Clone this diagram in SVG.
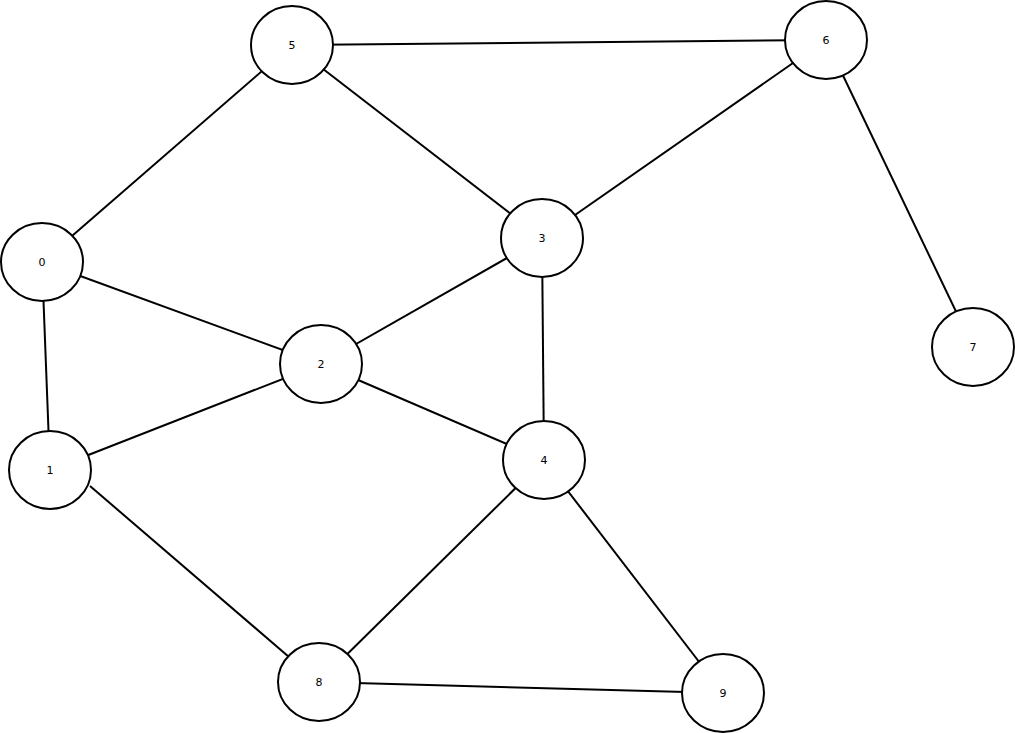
<svg xmlns="http://www.w3.org/2000/svg" width="1015" height="733" viewBox="0 0 1015 733">
<style>
.n ellipse{fill:#fff;stroke:#000;stroke-width:2}
.n text{font-family:"DejaVu Sans",sans-serif;font-size:11px;text-anchor:middle;dominant-baseline:central;fill:#000}
#edges line{stroke:#000;stroke-width:2}
</style>
<rect width="1015" height="733" fill="#fff"/>
<g id="edges">
<line x1="292" y1="45" x2="826" y2="40"/>
<line x1="292" y1="45" x2="42" y2="262"/>
<line x1="292" y1="45" x2="542" y2="238"/>
<line x1="826" y1="40" x2="542" y2="238"/>
<line x1="826" y1="40" x2="973" y2="347"/>
<line x1="42" y1="262" x2="321" y2="364"/>
<line x1="42" y1="262" x2="50" y2="470"/>
<line x1="542" y1="238" x2="321" y2="364"/>
<line x1="542" y1="238" x2="544" y2="460"/>
<line x1="321" y1="364" x2="50" y2="470"/>
<line x1="321" y1="364" x2="544" y2="460"/>
<line x1="90" y1="486" x2="289" y2="657"/>
<line x1="544" y1="460" x2="319" y2="682"/>
<line x1="544" y1="460" x2="723" y2="693"/>
<line x1="319" y1="682" x2="723" y2="693"/>
</g>
<g id="node0" class="n"><ellipse cx="42" cy="262" rx="41" ry="39"/><text x="42" y="262">0</text></g>
<g id="node1" class="n"><ellipse cx="50" cy="470" rx="41" ry="39"/><text x="50" y="470">1</text></g>
<g id="node2" class="n"><ellipse cx="321" cy="364" rx="41" ry="39"/><text x="321" y="364">2</text></g>
<g id="node3" class="n"><ellipse cx="542" cy="238" rx="41" ry="39"/><text x="542" y="238">3</text></g>
<g id="node4" class="n"><ellipse cx="544" cy="460" rx="41" ry="39"/><text x="544" y="460">4</text></g>
<g id="node5" class="n"><ellipse cx="292" cy="45" rx="41" ry="39"/><text x="292" y="45">5</text></g>
<g id="node6" class="n"><ellipse cx="826" cy="40" rx="41" ry="39"/><text x="826" y="40">6</text></g>
<g id="node7" class="n"><ellipse cx="973" cy="347" rx="41" ry="39"/><text x="973" y="347">7</text></g>
<g id="node8" class="n"><ellipse cx="319" cy="682" rx="41" ry="39"/><text x="319" y="682">8</text></g>
<g id="node9" class="n"><ellipse cx="723" cy="693" rx="41" ry="39"/><text x="723" y="693">9</text></g>
</svg>
